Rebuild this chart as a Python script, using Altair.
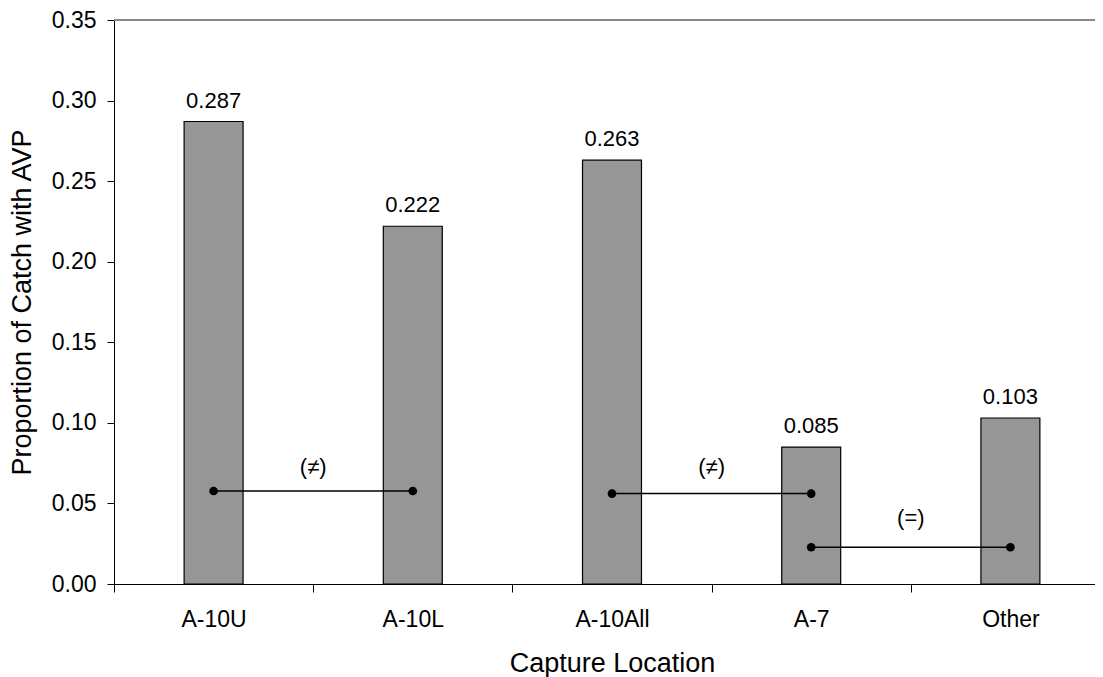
import json
import altair as alt
import pandas as pd

# ---- data ----
categories = ["A-10U", "A-10L", "A-10All", "A-7", "Other"]
proportions = [0.287, 0.222, 0.263, 0.085, 0.103]

comp_from = ["A-10U", "A-10All", "A-7"]
comp_to = ["A-10L", "A-7", "Other"]
comp_y = [0.0577, 0.0561, 0.0228]
comp_text = ["(≠)", "(≠)", "(=)"]
comp_text_y = [0.0724, 0.0724, 0.0408]

y_ticks = [0.0, 0.05, 0.10, 0.15, 0.20, 0.25, 0.30, 0.35]

# ---- tables ----
bars = pd.DataFrame({
    "pos": list(range(len(categories))),
    "cat": categories,
    "value": proportions,
})

idx = {c: i for i, c in enumerate(categories)}
segs = pd.DataFrame({
    "x1": [idx[c] for c in comp_from],
    "x2": [idx[c] for c in comp_to],
    "y": comp_y,
    "label": comp_text,
    "label_y": comp_text_y,
})
dots = pd.DataFrame({
    "x": [idx[c] for c in comp_from] + [idx[c] for c in comp_to],
    "y": comp_y + comp_y,
})

FONT = "Liberation Sans"
STEP = 199.2
RANGE_W = STEP * len(categories)

label_expr = "%s[datum.value]" % json.dumps(categories)

xscale = alt.Scale(domain=[-0.5, len(categories) - 0.5], range=[0, RANGE_W], nice=False, zero=False)
yscale = alt.Scale(domain=[0, 0.35], nice=False, zero=True)

x_axis = alt.Axis(
    title="Capture Location",
    values=list(range(len(categories))),
    labelExpr=label_expr,
    tickOffset=-STEP / 2,
    labelOffset=STEP / 2,
    tickSize=8,
    labelPadding=16,
    titlePadding=19,
    grid=False,
    labelFontSize=23,
    titleFontSize=27,
    titleFontWeight="normal",
    labelColor="black",
    titleColor="black",
    domainColor="black",
    tickColor="black",
    labelFont=FONT,
    titleFont=FONT,
)
y_axis = alt.Axis(
    title="Proportion of Catch with AVP",
    values=y_ticks,
    format=".2f",
    tickSize=7,
    labelPadding=11,
    titlePadding=15,
    grid=False,
    labelFontSize=23,
    titleFontSize=27,
    titleFontWeight="normal",
    labelColor="black",
    titleColor="black",
    domainColor="black",
    tickColor="black",
    labelFont=FONT,
    titleFont=FONT,
)

base = alt.Chart(bars)

bar_layer = base.transform_calculate(
    lo="datum.pos - 0.148", hi="datum.pos + 0.148"
).mark_bar(color="#969696", stroke="black", strokeWidth=1.2).encode(
    x=alt.X("lo:Q", scale=xscale, axis=x_axis),
    x2="hi:Q",
    y=alt.Y("value:Q", scale=yscale, axis=y_axis),
    y2=alt.datum(0),
)

bar_text = base.mark_text(
    baseline="alphabetic", dy=-14, fontSize=22, font=FONT, color="black"
).encode(
    x=alt.X("pos:Q", scale=xscale),
    y=alt.Y("value:Q", scale=yscale),
    text=alt.Text("value:Q", format=".3f"),
)

top_rule = alt.Chart(bars).mark_rule(color="#8a8a8a", strokeWidth=1.5).encode(
    y=alt.datum(0.35),
    x=alt.value(0),
    x2=alt.value(RANGE_W),
)

seg_layer = alt.Chart(segs).mark_rule(color="black", strokeWidth=1.5).encode(
    x=alt.X("x1:Q", scale=xscale),
    x2="x2:Q",
    y=alt.Y("y:Q", scale=yscale),
)

seg_text = alt.Chart(segs).transform_calculate(
    mid="(datum.x1 + datum.x2) / 2"
).mark_text(baseline="middle", fontSize=22, font=FONT, color="black").encode(
    x=alt.X("mid:Q", scale=xscale),
    y=alt.Y("label_y:Q", scale=yscale),
    text="label:N",
)

dot_layer = alt.Chart(dots).mark_point(filled=True, color="black", size=75, opacity=1).encode(
    x=alt.X("x:Q", scale=xscale),
    y=alt.Y("y:Q", scale=yscale),
)

chart = alt.layer(
    top_rule, bar_layer, bar_text, seg_layer, dot_layer, seg_text
).properties(
    width=981,
    height=564,
    autosize=alt.AutoSizeParams(type="none"),
    padding={"left": 106, "top": 12, "right": 0, "bottom": 95},
    background="white",
).configure_view(stroke=None).configure(font=FONT)

chart.save("out.html", embed_options={"renderer": "svg", "actions": False})
